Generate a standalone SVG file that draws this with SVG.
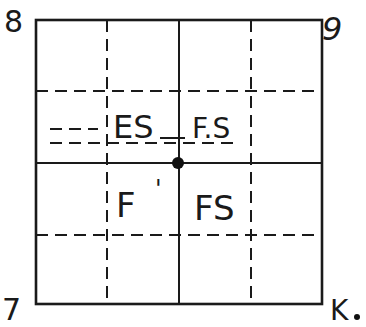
<svg xmlns="http://www.w3.org/2000/svg" width="366" height="327" viewBox="0 0 366 327">
<style>
.dash{stroke:#1a1a1a;stroke-width:2;stroke-dasharray:12 7;fill:none}
.solid{stroke:#1a1a1a;stroke-width:2;fill:none}
.lbl{font-family:"DejaVu Sans","Liberation Sans",sans-serif;fill:#1a1a1a}
</style>
<rect width="366" height="327" fill="#fff"/>
<g id="grid">
<rect x="36" y="20" width="286" height="284" fill="none" stroke="#1a1a1a" stroke-width="2.6"/>
<line class="dash" x1="107" y1="20" x2="107" y2="304"/>
<line class="dash" x1="251" y1="20" x2="251" y2="304"/>
<line class="dash" x1="36" y1="91" x2="322" y2="91"/>
<line class="dash" x1="36" y1="235" x2="322" y2="235"/>
<line class="solid" x1="179" y1="20" x2="179" y2="304"/>
<line class="solid" x1="36" y1="163" x2="322" y2="163"/>
<line class="dash" x1="50" y1="143" x2="240" y2="143" stroke-dasharray="10 6"/>
<line class="dash" x1="50" y1="129" x2="98" y2="129" stroke-dasharray="9 10"/>
<line class="solid" x1="160" y1="138" x2="185" y2="138"/>
<circle cx="178" cy="163" r="6" fill="#111"/>
</g>
<g id="labels">
<text class="lbl" x="4" y="32" font-size="30">8</text>
<text class="lbl" x="322" y="40" font-size="32" font-style="italic">9</text>
<text class="lbl" x="2" y="320" font-size="30">7</text>
<text class="lbl" x="330" y="320" font-size="28">K</text>
<circle cx="357" cy="317" r="3" fill="#111"/>
<text class="lbl" x="113" y="138" font-size="32">ES</text>
<text class="lbl" x="192" y="138" font-size="28">F.S</text>
<text class="lbl" x="116" y="217" font-size="34">F</text>
<text class="lbl" x="155" y="197" font-size="24">'</text>
<text class="lbl" x="194" y="220" font-size="34">FS</text>
</g>
</svg>
